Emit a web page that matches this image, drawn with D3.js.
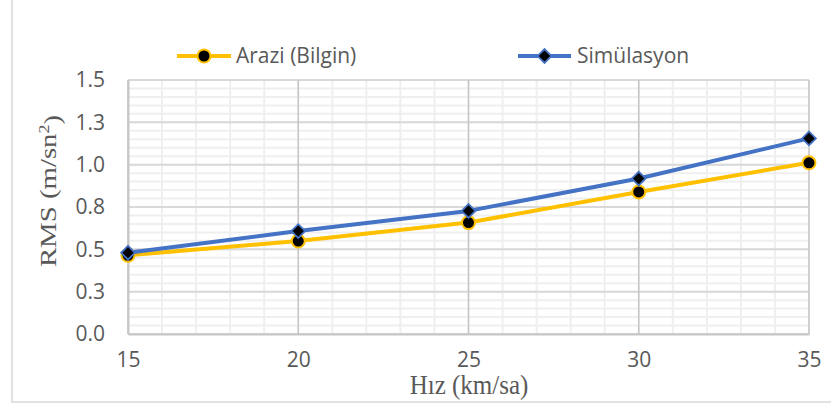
<!DOCTYPE html>
<html><head><meta charset="utf-8">
<script src="https://cdn.jsdelivr.net/npm/d3@7"></script>
<style>html,body{margin:0;padding:0;background:#fff;}svg{display:block;}</style>
</head><body>
<svg id="c" width="831" height="407"></svg>
<script>
const speeds = [15, 20, 25, 30, 35];
const arazi = [0.465, 0.549, 0.658, 0.839, 1.011];
const simulasyon = [0.480, 0.608, 0.727, 0.918, 1.155];
const yTickValues = [0, 0.25, 0.5, 0.75, 1.0, 1.25, 1.5];
const yTickLabels = ["0.0", "0.3", "0.5", "0.8", "1.0", "1.3", "1.5"];
const xTickLabels = ["15", "20", "25", "30", "35"];
const seriesNames = ["Arazi (Bilgin)", "Simülasyon"];

const svg = d3.select("#c");
const L = 128, R = 809, T = 80, B = 334;
const x = d3.scaleLinear().domain([15, 35]).range([L, R]);
const y = d3.scaleLinear().domain([0, 1.5]).range([B, T]);
const txt = "#595959";
const tickFont = "Open Sans, sans-serif";

// outer chart border (left & bottom visible)
svg.append("rect").attr("x", 12).attr("y", -10).attr("width", 900).attr("height", 412)
  .attr("fill", "none").attr("stroke", "#d9d9d9").attr("stroke-width", 1.5);

const g = svg.append("g");
// minor grid
g.selectAll(".ymin").data(d3.range(0, 1.5001, 0.05)).enter().append("line")
  .attr("x1", L).attr("x2", R).attr("y1", d => y(d)).attr("y2", d => y(d))
  .attr("stroke", "#efefef").attr("stroke-width", 2);
g.selectAll(".xmin").data(d3.range(15, 35.001, 1)).enter().append("line")
  .attr("y1", T).attr("y2", B).attr("x1", d => x(d)).attr("x2", d => x(d))
  .attr("stroke", "#efefef").attr("stroke-width", 2);
// major grid
g.selectAll(".ymaj").data(yTickValues).enter().append("line")
  .attr("x1", L).attr("x2", R).attr("y1", d => y(d)).attr("y2", d => y(d))
  .attr("stroke", "#d9d9d9").attr("stroke-width", 2);
g.selectAll(".xmaj").data(speeds).enter().append("line")
  .attr("y1", T).attr("y2", B).attr("x1", d => x(d)).attr("x2", d => x(d))
  .attr("stroke", "#c6c6c6").attr("stroke-width", 1.5);

// axes via d3
const yAxis = d3.axisLeft(y).tickValues(yTickValues).tickSize(0).tickPadding(23)
  .tickFormat((d, i) => yTickLabels[i]);
const ya = svg.append("g").attr("transform", `translate(${L},0)`).call(yAxis);
ya.select(".domain").attr("stroke", "#c6c6c6").attr("stroke-width", 2);
ya.selectAll("text").attr("fill", txt).style("font-family", tickFont).style("font-size", "21px");

const xAxis = d3.axisBottom(x).tickValues(speeds).tickSize(0).tickPadding(18)
  .tickFormat((d, i) => xTickLabels[i]);
const xa = svg.append("g").attr("transform", `translate(0,${B})`).call(xAxis);
xa.select(".domain").attr("stroke", "#c6c6c6").attr("stroke-width", 2);
xa.selectAll("text").attr("fill", txt).style("font-family", tickFont).style("font-size", "21px");

// lines
const line = d3.line().x((d, i) => x(speeds[i])).y(d => y(d));
svg.append("path").datum(arazi).attr("d", line).attr("fill", "none")
  .attr("stroke", "#FFC000").attr("stroke-width", 4).attr("stroke-linejoin", "round");
svg.append("path").datum(simulasyon).attr("d", line).attr("fill", "none")
  .attr("stroke", "#4472C4").attr("stroke-width", 4).attr("stroke-linejoin", "round");

const diamond = d3.symbol().type(d3.symbolSquare).size(95);
svg.selectAll(".c1").data(arazi).enter().append("circle")
  .attr("cx", (d, i) => x(speeds[i])).attr("cy", d => y(d)).attr("r", 6.5)
  .attr("fill", "#000").attr("stroke", "#FFC000").attr("stroke-width", 2);
svg.selectAll(".d1").data(simulasyon).enter().append("path")
  .attr("d", diamond).attr("transform", (d, i) => `translate(${x(speeds[i])},${y(d)}) rotate(45)`)
  .attr("fill", "#000").attr("stroke", "#4472C4").attr("stroke-width", 1.8);

// legend
const leg = [
  {name: seriesNames[0], color: "#FFC000", x0: 177, x1: 231, tx: 236, sym: "c"},
  {name: seriesNames[1], color: "#4472C4", x0: 518, x1: 571, tx: 577, sym: "d"}
];
const ly = 56;
leg.forEach(l => {
  svg.append("line").attr("x1", l.x0).attr("x2", l.x1).attr("y1", ly).attr("y2", ly)
    .attr("stroke", l.color).attr("stroke-width", 4);
  const cx = (l.x0 + l.x1) / 2;
  if (l.sym === "c") {
    svg.append("circle").attr("cx", cx).attr("cy", ly).attr("r", 6.5)
      .attr("fill", "#000").attr("stroke", l.color).attr("stroke-width", 2);
  } else {
    svg.append("path").attr("d", diamond).attr("transform", `translate(${cx},${ly}) rotate(45)`)
      .attr("fill", "#000").attr("stroke", l.color).attr("stroke-width", 1.8);
  }
  svg.append("text").attr("x", l.tx).attr("y", ly).attr("dy", "0.35em")
    .attr("fill", txt).style("font-family", tickFont).style("font-size", "21px").text(l.name);
});

// axis titles
svg.append("text").attr("transform", `translate(469,394) scale(1,1.08)`)
  .attr("text-anchor", "middle").attr("fill", txt)
  .style("font-family", "Liberation Serif, serif").style("font-size", "25px").text("Hız (km/sa)");
const yt = svg.append("text").attr("transform", `translate(56,191) scale(1,1.2) rotate(-90)`)
  .attr("text-anchor", "middle").attr("fill", txt)
  .style("font-family", "Liberation Serif, serif").style("font-size", "24px");
yt.append("tspan").text("RMS (m/sn");
yt.append("tspan").attr("dy", "-0.45em").style("font-size", "15px").text("2");
yt.append("tspan").attr("dy", "0.45em").text(")");
</script>
</body></html>
